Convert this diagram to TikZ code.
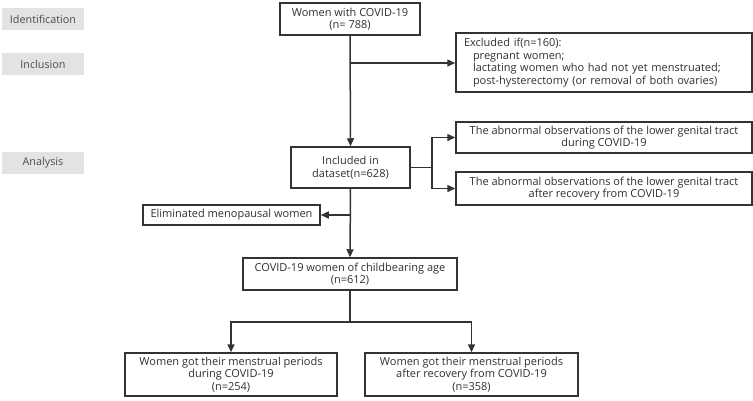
\documentclass[tikz,border=0pt]{standalone}
\usepackage{fontspec}
\setmainfont{Open Sans}
\usetikzlibrary{arrows.meta}
\definecolor{linec}{HTML}{333333}
\definecolor{labfill}{HTML}{E3E3E3}
\definecolor{txt}{HTML}{303030}
\begin{document}
\begin{tikzpicture}[x=1pt,y=-1pt,
  box/.style={draw=linec, line width=1.5pt, align=center, inner sep=0pt, text=txt,
    font=\fontsize{11}{12.6}\selectfont},
  lab/.style={fill=labfill, inner sep=0pt, minimum width=82pt, minimum height=22pt, text=black!70,
    font=\fontsize{10.8}{12}\selectfont},
  conn/.style={draw=linec, line width=1.5pt},
  arr/.style={conn, -{Triangle[length=8pt,width=7pt]}}]
\useasboundingbox (0,0) rectangle (753,400);
\node[lab] (l1) at (43,19) {Identification};
\node[lab] (l2) at (43,64) {Inclusion};
\node[lab] (l3) at (43,163) {Analysis};

\node[box, minimum width=140pt, minimum height=32pt] (top) at (350,19) {Women with COVID-19\\(n= 788)};
\node[box, minimum width=296pt, minimum height=59pt, align=left, text width=280pt] (excl) at (604,62.5)
  {Excluded if(n=160):\\\hspace*{9pt}pregnant women;\\\hspace*{9pt}lactating women who had not yet menstruated;\\\hspace*{9pt}post-hysterectomy (or removal of both ovaries)};
\node[box, minimum width=119pt, minimum height=41pt] (inc) at (350.5,167.5) {Included in\\dataset(n=628)};
\node[box, minimum width=296pt, minimum height=31pt] (ab1) at (604,137.5) {The abnormal observations of the lower genital tract\\during COVID-19};
\node[box, minimum width=296pt, minimum height=33pt] (ab2) at (604,188.5) {The abnormal observations of the lower genital tract\\after recovery from COVID-19};
\node[box, minimum width=177pt, minimum height=20pt] (elim) at (231.5,215) {Eliminated menopausal women};
\node[box, minimum width=214pt, minimum height=32pt] (child) at (350,274) {COVID-19 women of childbearing age\\(n=612)};
\node[box, minimum width=212pt, minimum height=43pt] (bl) at (231,374.5) {Women got their menstrual periods\\during COVID-19\\(n=254)};
\node[box, minimum width=213pt, minimum height=43pt] (br) at (471.5,374.5) {Women got their menstrual periods\\after recovery from COVID-19\\(n=358)};

\coordinate (j1) at (350,63);
\coordinate (j2) at (432,167.5);
\coordinate (j3) at (350,215);
\coordinate (j4) at (350,322);

\draw[arr] (top.south) -- (inc.north);
\draw[arr] (j1) -- (excl.west |- j1);
\draw[conn] (inc.east) -- (j2);
\draw[arr] (j2) |- (ab1.west);
\draw[arr] (j2) |- (ab2.west);
\draw[arr] (inc.south) -- (child.north);
\draw[arr] (j3) -- (elim.east);
\draw[conn] (child.south) -- (j4);
\draw[arr] (j4) -| (bl.north);
\draw[arr] (j4) -| (br.north);
\end{tikzpicture}
\end{document}
